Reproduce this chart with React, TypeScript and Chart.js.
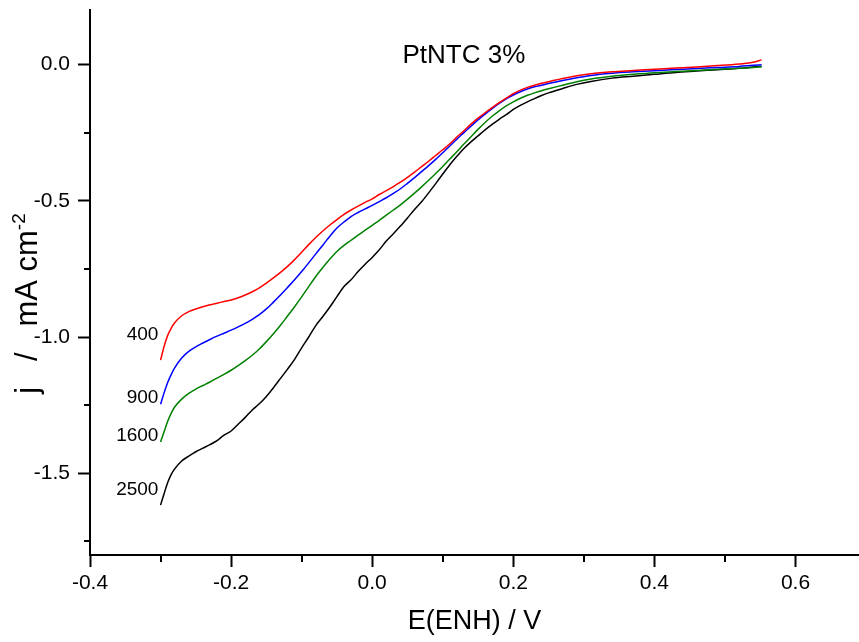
import React, { useEffect, useRef } from 'react';
import { Chart, registerables } from 'chart.js';

Chart.register(...registerables);

// Potential (V vs ENH)
const potential = [
  -0.300, -0.295, -0.290, -0.285, -0.280, -0.270, -0.260, -0.250, -0.240, -0.230,
  -0.220, -0.210, -0.200, -0.190, -0.180, -0.170, -0.160, -0.150, -0.140, -0.130,
  -0.120, -0.110, -0.100, -0.090, -0.080, -0.070, -0.060, -0.050, -0.040, -0.030,
  -0.020, -0.010, 0.000, 0.010, 0.020, 0.030, 0.040, 0.050, 0.060, 0.070,
  0.080, 0.090, 0.100, 0.110, 0.120, 0.130, 0.140, 0.150, 0.160, 0.170,
  0.180, 0.190, 0.200, 0.210, 0.220, 0.230, 0.240, 0.250, 0.270, 0.290,
  0.310, 0.340, 0.370, 0.400, 0.430, 0.460, 0.490, 0.520, 0.540, 0.552,
];

// Current density (mA cm-2) at each rotation rate
const j400 = [
  -1.085, -1.035, -0.995, -0.968, -0.948, -0.922, -0.907, -0.897, -0.889, -0.882,
  -0.876, -0.870, -0.864, -0.856, -0.846, -0.834, -0.820, -0.802, -0.783, -0.763,
  -0.741, -0.716, -0.689, -0.661, -0.635, -0.611, -0.589, -0.569, -0.550, -0.534,
  -0.520, -0.506, -0.493, -0.477, -0.463, -0.448, -0.432, -0.414, -0.395, -0.375,
  -0.355, -0.334, -0.313, -0.291, -0.266, -0.243, -0.219, -0.197, -0.177, -0.158,
  -0.140, -0.123, -0.107, -0.094, -0.084, -0.076, -0.069, -0.063, -0.051, -0.041,
  -0.034, -0.027, -0.022, -0.017, -0.013, -0.009, -0.004, 0.002, 0.008, 0.017,
];
const j900 = [
  -1.247, -1.205, -1.168, -1.138, -1.113, -1.077, -1.053, -1.036, -1.022, -1.009,
  -0.997, -0.986, -0.975, -0.963, -0.950, -0.935, -0.918, -0.897, -0.872, -0.846,
  -0.818, -0.790, -0.760, -0.728, -0.695, -0.663, -0.630, -0.600, -0.578, -0.558,
  -0.543, -0.530, -0.517, -0.503, -0.489, -0.473, -0.456, -0.436, -0.415, -0.393,
  -0.371, -0.348, -0.324, -0.299, -0.274, -0.250, -0.226, -0.203, -0.182, -0.162,
  -0.143, -0.126, -0.112, -0.100, -0.090, -0.082, -0.076, -0.070, -0.059, -0.049,
  -0.040, -0.032, -0.027, -0.023, -0.018, -0.015, -0.011, -0.007, -0.003, -0.001,
];
const j1600 = [
  -1.385, -1.348, -1.310, -1.280, -1.257, -1.228, -1.207, -1.191, -1.178, -1.165,
  -1.151, -1.137, -1.122, -1.105, -1.087, -1.067, -1.044, -1.017, -0.988, -0.957,
  -0.923, -0.889, -0.853, -0.815, -0.778, -0.745, -0.714, -0.686, -0.664, -0.645,
  -0.626, -0.608, -0.590, -0.572, -0.553, -0.534, -0.515, -0.494, -0.472, -0.449,
  -0.425, -0.400, -0.374, -0.347, -0.320, -0.292, -0.265, -0.238, -0.213, -0.190,
  -0.170, -0.152, -0.137, -0.124, -0.113, -0.104, -0.096, -0.089, -0.076, -0.063,
  -0.053, -0.043, -0.036, -0.030, -0.026, -0.022, -0.017, -0.014, -0.011, -0.008,
];
const j2500 = [
  -1.617, -1.575, -1.535, -1.505, -1.484, -1.455, -1.437, -1.421, -1.408, -1.395,
  -1.380, -1.360, -1.345, -1.320, -1.295, -1.268, -1.245, -1.218, -1.186, -1.152,
  -1.118, -1.082, -1.040, -1.000, -0.958, -0.925, -0.890, -0.852, -0.815, -0.790,
  -0.760, -0.733, -0.708, -0.680, -0.648, -0.621, -0.593, -0.563, -0.532, -0.504,
  -0.471, -0.437, -0.402, -0.368, -0.337, -0.308, -0.284, -0.262, -0.240, -0.220,
  -0.201, -0.184, -0.165, -0.150, -0.137, -0.125, -0.114, -0.104, -0.088, -0.073,
  -0.062, -0.050, -0.043, -0.036, -0.029, -0.024, -0.019, -0.014, -0.009, -0.007,
];

const seriesLabels = ['400', '900', '1600', '2500'];
const seriesValues = [j400, j900, j1600, j2500];
const seriesColors = ['#ff0000', '#0000ff', '#008000', '#000000'];

// Label anchors (data units)
const seriesLabelX = -0.303;
const seriesLabelY = [-1.010, -1.242, -1.381, -1.580];
const sampleName = 'PtNTC 3%';
const sampleNameX = 0.13;
const sampleNameY = 0.005;

// Axes
const xMin = -0.4;
const xMax = 0.69;
const yMin = -1.8;
const yMax = 0.2;
const xMajorTicks = [-0.4, -0.2, 0.0, 0.2, 0.4, 0.6];
const xMinorTicks = [-0.3, -0.1, 0.1, 0.3, 0.5];
const yMajorTicks = [-1.5, -1.0, -0.5, 0.0];
const yMinorTicks = [-1.75, -1.25, -0.75, -0.25];
const xTitle = 'E(ENH) / V';
const yTitleMain = 'j   /   mA cm';
const yTitleSup = '-2';

const FONT = '"Liberation Sans", Arial, Helvetica, sans-serif';

export default function App() {
  const ref = useRef<HTMLCanvasElement>(null);

  useEffect(() => {
    const canvas = ref.current;
    if (!canvas) return;

    const overlay = {
      id: 'overlay',
      afterDraw(chart: any) {
        const { ctx, chartArea } = chart;
        const xs = chart.scales.x;
        const ys = chart.scales.y;
        ctx.save();
        // minor ticks
        ctx.strokeStyle = '#000';
        ctx.lineWidth = 2;
        xMinorTicks.forEach((v) => {
          const px = Math.round(xs.getPixelForValue(v));
          ctx.beginPath();
          ctx.moveTo(px, chartArea.bottom);
          ctx.lineTo(px, chartArea.bottom + 7);
          ctx.stroke();
        });
        yMinorTicks.forEach((v) => {
          const py = Math.round(ys.getPixelForValue(v));
          ctx.beginPath();
          ctx.moveTo(chartArea.left, py);
          ctx.lineTo(chartArea.left - 6, py);
          ctx.stroke();
        });
        // series labels
        ctx.fillStyle = '#000';
        ctx.font = `19px ${FONT}`;
        ctx.textAlign = 'right';
        ctx.textBaseline = 'alphabetic';
        seriesLabels.forEach((t, i) => {
          ctx.fillText(t, xs.getPixelForValue(seriesLabelX), ys.getPixelForValue(seriesLabelY[i]));
        });
        // sample name
        ctx.font = `26px ${FONT}`;
        ctx.textAlign = 'center';
        ctx.fillText(sampleName, xs.getPixelForValue(sampleNameX), ys.getPixelForValue(sampleNameY));
        // y title with superscript
        const mainFont = `31px ${FONT}`;
        const supFont = `19px ${FONT}`;
        ctx.font = mainFont;
        const wMain = ctx.measureText(yTitleMain).width;
        ctx.font = supFont;
        const wSup = ctx.measureText(yTitleSup).width;
        const total = wMain + wSup;
        const cy = (chartArea.top + chartArea.bottom) / 2 + 21;
        ctx.translate(ys.left + 37, cy);
        ctx.rotate(-Math.PI / 2);
        ctx.textAlign = 'left';
        ctx.font = mainFont;
        ctx.fillText(yTitleMain, -total / 2, 0);
        ctx.font = supFont;
        ctx.fillText(yTitleSup, -total / 2 + wMain, -12);
        ctx.restore();
      },
    };

    const chart = new Chart(canvas, {
      type: 'line',
      data: {
        datasets: seriesValues.map((vals, i) => ({
          label: seriesLabels[i],
          data: potential.map((x, k) => ({ x, y: vals[k] })),
          borderColor: seriesColors[i],
          backgroundColor: seriesColors[i],
          borderWidth: 1.5,
          pointRadius: 0,
          fill: false,
          cubicInterpolationMode: 'monotone' as const,
        })),
      },
      options: {
        responsive: false,
        animation: false,
        devicePixelRatio: 1,
        layout: { padding: { top: 10, left: 0, right: 0, bottom: 0 } },
        plugins: {
          legend: { display: false },
          title: { display: false },
          tooltip: { enabled: false },
        },
        scales: {
          x: {
            type: 'linear',
            min: xMin,
            max: xMax,
            afterBuildTicks: (axis: any) => {
              axis.ticks = xMajorTicks.map((v) => ({ value: v }));
            },
            afterFit: (axis: any) => {
              axis.height = 87;
              axis.paddingLeft = 0;
              axis.paddingRight = 0;
            },
            border: { display: true, color: '#000', width: 2 },
            grid: {
              display: true,
              drawOnChartArea: false,
              drawTicks: true,
              tickLength: 12,
              tickWidth: 2,
              tickColor: '#000',
            },
            ticks: {
              autoSkip: false,
              maxRotation: 0,
              color: '#000',
              padding: 4,
              font: { family: FONT, size: 21 },
              callback: (v: any) => Number(v).toFixed(1),
            },
            title: {
              display: true,
              text: xTitle,
              color: '#000',
              font: { family: FONT, size: 27 },
              padding: { top: 0, bottom: 4 },
            },
          },
          y: {
            type: 'linear',
            min: yMin,
            max: yMax,
            afterBuildTicks: (axis: any) => {
              axis.ticks = yMajorTicks.map((v) => ({ value: v }));
            },
            afterFit: (axis: any) => {
              axis.width = 90;
              axis.paddingTop = 0;
              axis.paddingBottom = 0;
            },
            border: { display: true, color: '#000', width: 2 },
            grid: {
              display: true,
              drawOnChartArea: false,
              drawTicks: true,
              tickLength: 12,
              tickWidth: 2,
              tickColor: '#000',
            },
            ticks: {
              autoSkip: false,
              color: '#000',
              padding: 8,
              font: { family: FONT, size: 21 },
              callback: (v: any) => Number(v).toFixed(1),
            },
          },
        },
      },
      plugins: [overlay],
    });

    return () => chart.destroy();
  }, []);

  return (
    <div style={{ position: 'fixed', left: 0, top: 0, width: 859, height: 642, background: '#fff' }}>
      <canvas ref={ref} width={859} height={642} style={{ display: 'block', width: 859, height: 642 }} />
    </div>
  );
}
